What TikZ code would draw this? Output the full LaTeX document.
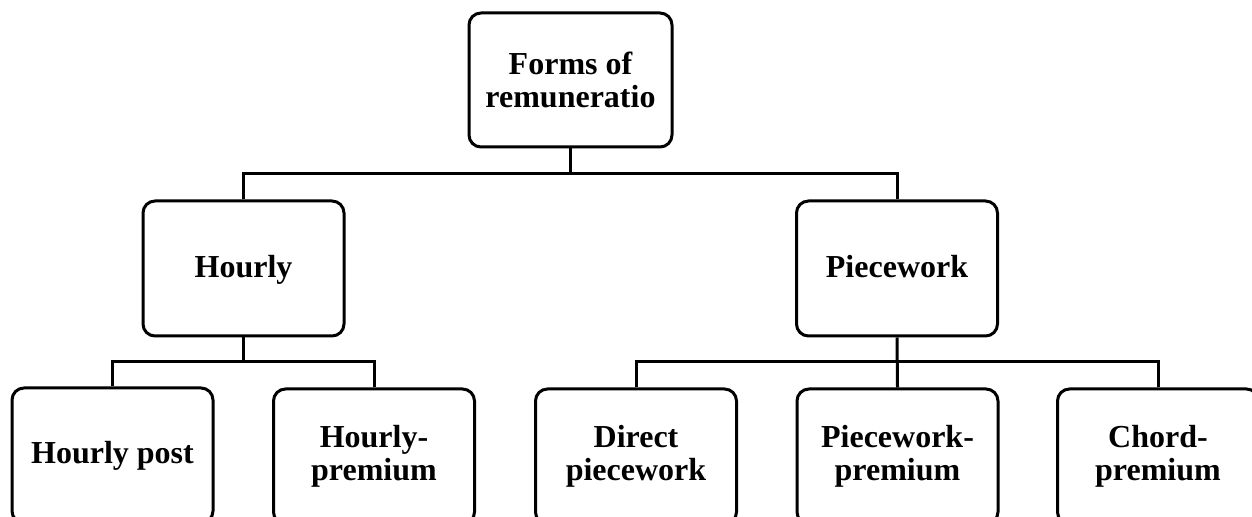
\documentclass[tikz,border=0pt]{standalone}
\usepackage{fontspec}
\setmainfont{Liberation Serif}
\begin{document}
\begin{tikzpicture}[x=0.5pt,y=-0.5pt,
  box/.style={draw=black, line width=1.5pt, rounded corners=6pt,
    minimum width=100.5pt, minimum height=67.5pt, align=center,
    inner sep=0pt, font=\fontsize{16}{16.5}\selectfont\bfseries},
  oneline/.style={text height=11pt, text depth=1.5pt},
  link/.style={draw=black, line width=1.5pt}]
  \useasboundingbox (0,0) rectangle (1252,517);
  \clip (0,0) rectangle (1252,517);
  % root
  \node[box, minimum width=101.5pt, minimum height=67pt] (root) at (570.5,80) {Forms of\\remuneratio};
  % second level
  \node[box, oneline] (hourly) at (243.5,268.5) {Hourly};
  \node[box, oneline] (piece) at (897,268.5) {Piecework};
  % third level
  \node[box] (hpost) at (112.5,455.5) {Hourly post};
  \node[box] (hprem) at (374,456.5) {Hourly-\\premium};
  \node[box] (direct) at (636,456.5) {Direct\\piecework};
  \node[box] (pprem) at (897.5,456.5) {Piecework-\\premium};
  \node[box] (chord) at (1158,456.5) {Chord-\\premium};
  % bus junctions
  \coordinate (busA) at (570.5,174);
  \coordinate (busB) at (243.5,362);
  \coordinate (busC) at (897,362);
  % connectors
  \draw[link] (root.south) -- (busA);
  \draw[link] (hourly.north) |- (busA) -| (piece.north);
  \draw[link] (hourly.south) -- (busB);
  \draw[link] (hpost.north) |- (busB) -| (hprem.north);
  \draw[link] (piece.south) -- (pprem.north);
  \draw[link] (direct.north) |- (busC) -| (chord.north);
\end{tikzpicture}
\end{document}
